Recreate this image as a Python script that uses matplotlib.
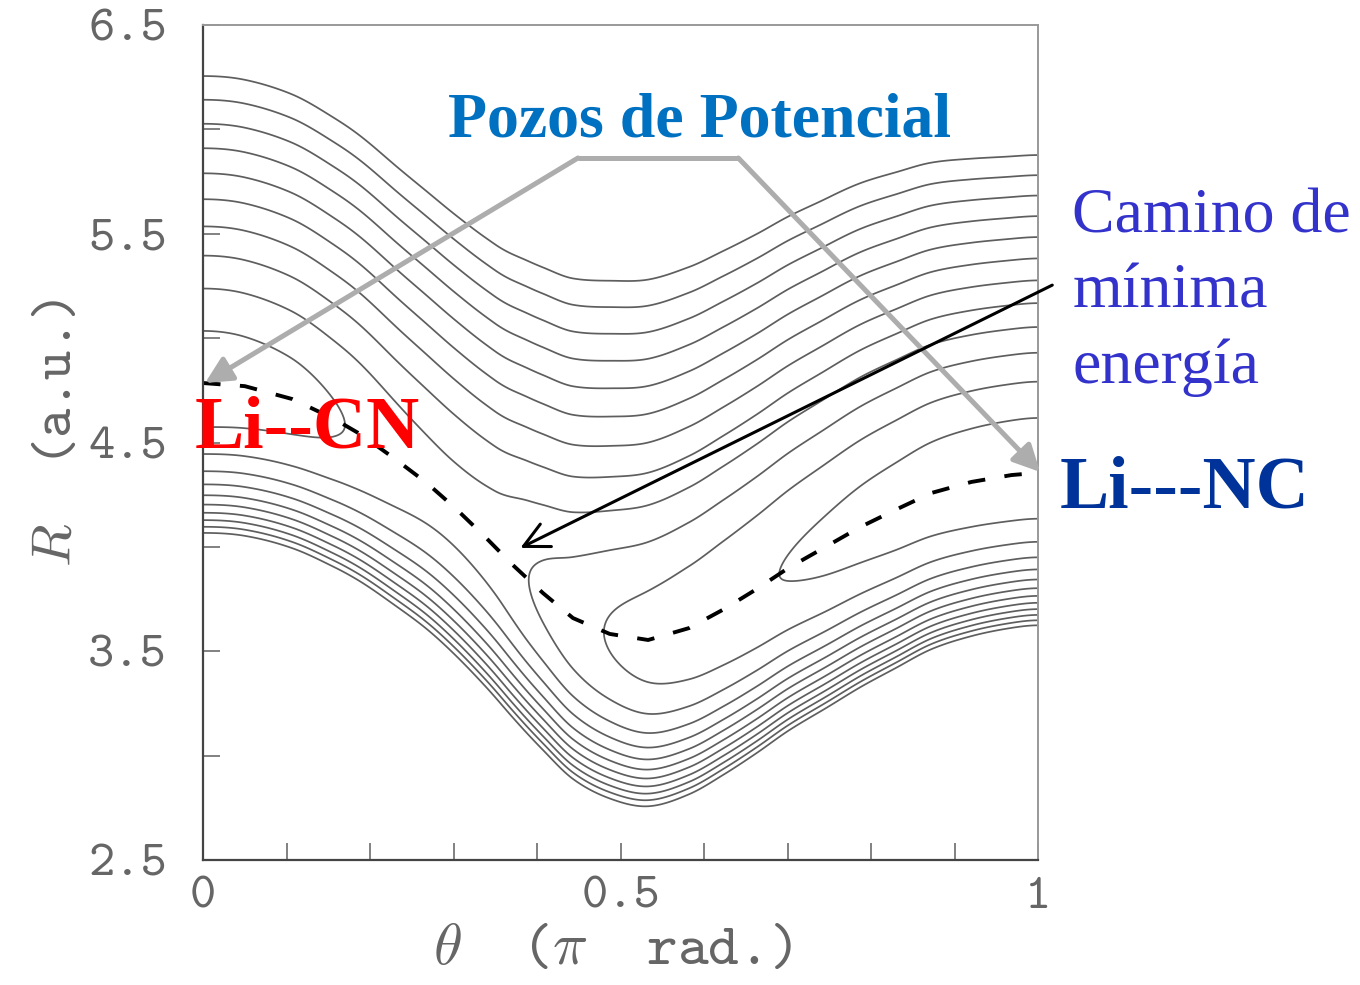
import numpy as np
import matplotlib
matplotlib.use("Agg")
import matplotlib.pyplot as plt

plt.rcParams["mathtext.fontset"] = "cm"

# minimum energy path (dashed line)
theta_path = [0.0, 0.05, 0.107, 0.157, 0.19, 0.23, 0.268, 0.302, 0.338, 0.371,
              0.407, 0.443, 0.487, 0.533, 0.582, 0.624, 0.663, 0.701, 0.745,
              0.787, 0.829, 0.872, 0.92, 0.968, 1.0]
R_path = [4.785, 4.77, 4.708, 4.613, 4.536, 4.421, 4.306, 4.186, 4.047, 3.913,
          3.779, 3.659, 3.583, 3.554, 3.611, 3.702, 3.798, 3.899, 3.999,
          4.095, 4.177, 4.258, 4.311, 4.344, 4.355]

# energy along the path, in units of contour spacing (from where contours touch the path)
theta_E = [0.0, 0.1, 0.17, 0.25, 0.3, 0.35, 0.39, 0.48, 0.55, 0.69, 0.8, 0.9, 1.0]
E_path = [1.47, 1.65, 2.0, 2.5, 2.62, 2.45, 2.0, 1.0, 0.5, 0.0, -0.38, -0.6, -0.68]

# wall stiffness and steepness across theta
theta_wall = [0.0, 0.25, 0.5, 0.75, 1.0]
K_wall = [4.19, 4.0, 3.9, 4.3, 4.9]
b_wall = [2.2, 2.2, 2.1, 2.15, 2.2]

levels = list(range(12))

x_ticks = [0, 0.1, 0.2, 0.3, 0.4, 0.5, 0.6, 0.7, 0.8, 0.9, 1.0]
x_labels = ["0", "", "", "", "", "0.5", "", "", "", "", "1"]
y_ticks = [2.5, 3.0, 3.5, 4.0, 4.5, 5.0, 5.5, 6.0, 6.5]
y_labels = ["2.5", "", "3.5", "", "4.5", "", "5.5", "", "6.5"]


def smooth(xk, yk, x):
    # cubic hermite through the nodes, flat at both ends
    xk = np.asarray(xk, float)
    yk = np.asarray(yk, float)
    m = np.zeros_like(yk)
    m[1:-1] = (yk[2:] - yk[:-2]) / (xk[2:] - xk[:-2])
    i = np.clip(np.searchsorted(xk, x, side="right") - 1, 0, len(xk) - 2)
    h = xk[i + 1] - xk[i]
    t = (x - xk[i]) / h
    return ((2 * t**3 - 3 * t**2 + 1) * yk[i] + (t**3 - 2 * t**2 + t) * h * m[i]
            + (-2 * t**3 + 3 * t**2) * yk[i + 1] + (t**3 - t**2) * h * m[i + 1])


th = np.linspace(0, 1, 600)
rr = np.linspace(2.5, 6.5, 700)
T, RR = np.meshgrid(th, rr)
Re = smooth(theta_path, R_path, th)
E = smooth(theta_E, E_path, th)
K = smooth(theta_wall, K_wall, th)
b = smooth(theta_wall, b_wall, th)
u = b * (RR - Re)
V = E + K * (np.exp(-u) + u - 1)

fig = plt.figure(figsize=(13.6, 9.85), dpi=100)
ax = fig.add_axes([0.1493, 0.1269, 0.614, 0.8477])

ax.contour(T, RR, V, levels=levels, colors="#5e5e5e", linewidths=1.25)
ax.plot(theta_path, R_path, color="black", lw=2.8, ls=(0, (4.5, 5.0)))

ax.set_xlim(0, 1)
ax.set_ylim(2.5, 6.5)
ax.set_xticks(x_ticks)
ax.set_xticklabels(x_labels, fontfamily="cmtt10")
ax.set_yticks(y_ticks)
ax.set_yticklabels(y_labels, fontfamily="cmtt10")
ax.tick_params(direction="in", length=12, width=1.3, colors="#777777",
               labelsize=36, labelcolor="#666666")
ax.tick_params(axis="y", pad=26)
ax.tick_params(axis="x", pad=12)
for side in ["left", "bottom"]:
    ax.spines[side].set_color("#444444")
    ax.spines[side].set_linewidth(1.6)
for side in ["top", "right"]:
    ax.spines[side].set_color("#999999")
    ax.spines[side].set_linewidth(1.4)

ax.set_xlabel(r"$\theta$  ($\pi$  rad.)", fontsize=42, color="#666666",
              fontfamily="cmtt10")
ax.xaxis.set_label_coords(0.49, -0.08)
ax.set_ylabel(r"$R$  (a.u.)", fontsize=40, color="#666666", fontfamily="cmtt10")
ax.yaxis.set_label_coords(-0.1425, 0.511)

# annotations
gray = "#adadad"
ax.plot([0.449, 0.641], [5.863, 5.863], color=gray, lw=3.6, clip_on=False,
        solid_capstyle="butt")
for tip in [(0.0024, 4.785), (1.0024, 4.359)]:
    start = (0.449, 5.863) if tip[0] < 0.5 else (0.641, 5.863)
    ax.annotate("", xy=tip, xytext=start, annotation_clip=False,
                arrowprops=dict(arrowstyle="-|>", color=gray, lw=3.6,
                                mutation_scale=40, shrinkA=0, shrinkB=0))
ax.annotate("", xy=(0.38, 3.995), xytext=(1.017, 5.254), annotation_clip=False,
            arrowprops=dict(arrowstyle="->", color="black", lw=2.2,
                            mutation_scale=45, shrinkA=0, shrinkB=0))

ax.text(0.595, 6.04, "Pozos de Potencial", fontsize=46, fontweight="bold",
        family="Liberation Serif", color="#0070C0", ha="center", va="center")
for txt, r in [("Camino de", 5.508), ("mínima", 5.149), ("energía", 4.785)]:
    ax.text(1.041, r, txt, fontsize=46, family="Liberation Serif",
            color="#3333CC", ha="left", va="baseline", clip_on=False)
ax.text(-0.0096, 4.478, "Li--CN", fontsize=53, fontweight="bold",
        family="Liberation Serif", color="#FF0000", ha="left", va="baseline")
ax.text(1.026, 4.191, "Li---NC", fontsize=53, fontweight="bold",
        family="Liberation Serif", color="#003399", ha="left", va="baseline")

fig.savefig("out.png", dpi=100)
